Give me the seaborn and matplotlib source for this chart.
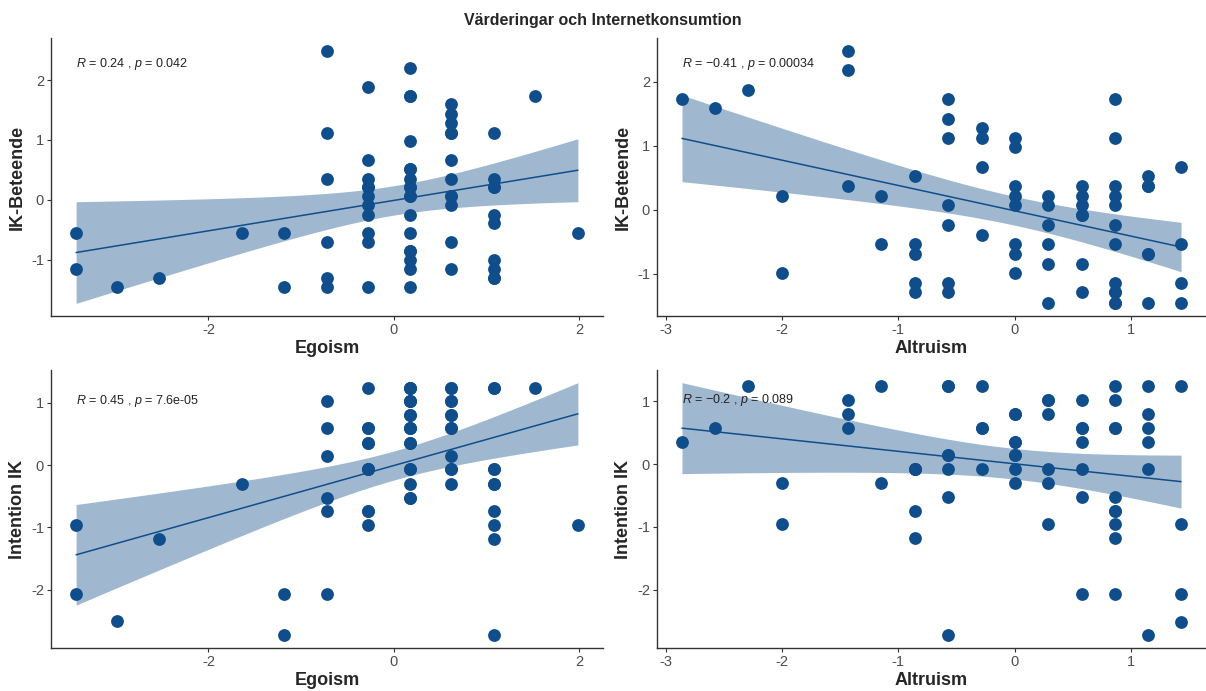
import numpy as np
import pandas as pd
import matplotlib.pyplot as plt
import seaborn as sns

# x positions (columns) of the standardised scores
egoism = [-3.43, -2.99, -2.54, -1.64, -1.18, -0.72, -0.28, 0.18, 0.62, 1.08, 1.53, 1.99]
altruism = [-2.86, -2.58, -2.29, -2.00, -1.43, -1.15, -0.86, -0.57, -0.28, 0.00,
            0.29, 0.58, 0.86, 1.15, 1.43]

# y values in each column (repeated values = respondents hidden behind one dot)
beteende_egoism = [
    [-0.55, -1.15], [-1.46], [-1.31], [-0.55], [-0.55, -1.46],
    [2.49, 1.12, 0.355, -0.70, -1.31, -1.46],
    [1.89, 0.67, 0.355, 0.22, 0.22, 0.06, -0.09, -0.26, -0.55, -0.70, -1.46],
    [2.20, 1.73, 1.73, 0.98, 0.52, 0.52, 0.355, 0.22, 0.22, 0.06, 0.06, -0.26, -0.55,
     -0.86, -0.86, -1.01, -1.15, -1.46],
    [1.60, 1.44, 1.28, 1.12, 1.12, 0.67, 0.355, 0.06, 0.06, -0.09, -0.70, -1.15],
    [1.12, 0.355, 0.22, 0.22, -0.26, -0.39, -1.01, -1.15, -1.31, -1.31],
    [1.73], [-0.55],
]
intention_egoism = [
    [-0.96, -2.06], [-2.50], [-1.18], [-0.30], [-2.06, -2.73],
    [1.02, 0.59, 0.14, -0.52, -0.74, -2.06],
    [1.24, 0.59, 0.59, 0.36, 0.36, -0.07, -0.07, -0.07, -0.74, -0.74, -0.96],
    [1.24, 1.24, 1.24, 1.02, 1.02, 1.02, 0.81, 0.81, 0.59, 0.59, 0.59, 0.36, 0.36,
     -0.07, -0.07, -0.30, -0.52, -0.52],
    [1.24, 1.24, 1.02, 1.02, 0.81, 0.81, 0.59, 0.59, 0.14, -0.07, -0.07, -0.30],
    [1.24, 1.24, -0.07, -0.07, -0.30, -0.30, -0.74, -0.96, -1.18, -2.73],
    [1.24], [-0.96],
]
beteende_altruism = [
    [1.73], [1.59], [1.88], [0.22, -0.99], [2.49, 2.19, 0.38], [0.22, -0.54],
    [0.53, -0.54, -0.69, -1.14, -1.29],
    [1.73, 1.42, 1.13, 0.07, -0.23, -1.14, -1.29],
    [1.28, 1.13, 0.67, -0.39],
    [1.13, 0.98, 0.38, 0.22, 0.07, -0.54, -0.69, -0.99],
    [0.22, 0.07, -0.23, -0.54, -0.84, -1.46],
    [0.38, 0.22, 0.07, -0.08, -0.08, -0.84, -1.29],
    [1.73, 1.13, 0.38, 0.22, 0.07, -0.23, -0.54, -1.14, -1.29, -1.29, -1.46, -1.46],
    [0.53, 0.38, 0.38, -0.69, -0.69, -1.46],
    [0.67, -0.54, -1.14, -1.46],
]
intention_altruism = [
    [0.36], [0.58], [1.24], [-0.30, -0.96], [1.02, 0.80, 0.58], [1.24, -0.30],
    [-0.08, -0.08, -0.08, -0.74, -1.18],
    [1.24, 1.24, 0.14, 0.14, -0.08, -0.52, -2.73],
    [1.24, 0.58, 0.58, -0.08],
    [0.80, 0.80, 0.36, 0.36, 0.14, 0.14, -0.08, -0.30],
    [1.02, 1.02, 0.80, -0.08, -0.30, -0.96],
    [1.02, 0.58, 0.58, 0.36, -0.08, -0.52, -2.07],
    [1.24, 1.02, 0.58, 0.58, -0.52, -0.74, -0.74, -0.96, -1.18, -2.07],
    [1.24, 0.80, 0.58, 0.36, -0.08, -2.73],
    [1.24, -0.96, -2.07, -2.51],
]

cor_labels = [
    r"$R$ = 0.24 , $p$ = 0.042",
    r"$R$ = −0.41 , $p$ = 0.00034",
    r"$R$ = 0.45 , $p$ = 7.6e-05",
    r"$R$ = −0.2 , $p$ = 0.089",
]

DOT = "#104E8B"


def expand(levels, groups):
    xs, ys = [], []
    for x, col in zip(levels, groups):
        xs += [x] * len(col)
        ys += col
    return pd.DataFrame({"x": xs, "y": ys})


def lm_band(df, n=80):
    # ordinary least squares with a 95% confidence band (like geom_smooth(method = "lm"))
    x, y = df["x"].to_numpy(), df["y"].to_numpy()
    b, a = np.polyfit(x, y, 1)
    dof = len(x) - 2
    s = np.sqrt(np.sum((y - (a + b * x)) ** 2) / dof)
    z = 1.959964
    t = z + (z ** 3 + z) / (4 * dof)
    grid = np.linspace(x.min(), x.max(), n)
    se = s * np.sqrt(1 / len(x) + (grid - x.mean()) ** 2 / np.sum((x - x.mean()) ** 2))
    fit = a + b * grid
    return grid, fit, fit - t * se, fit + t * se


sns.set_style("ticks")
plt.rcParams["font.family"] = ["Liberation Sans", "DejaVu Sans"]
plt.rcParams["mathtext.fontset"] = "custom"
plt.rcParams["mathtext.rm"] = "Liberation Sans"
plt.rcParams["mathtext.it"] = "Liberation Sans:italic"
plt.rcParams["axes.unicode_minus"] = False

panels = [
    (expand(egoism, beteende_egoism), "Egoism", "IK-Beteende", [-2, 0, 2], [-1, 0, 1, 2],
     [0.0423, 0.5427, 0.4577, 0.4023]),
    (expand(altruism, beteende_altruism), "Altruism", "IK-Beteende", [-3, -2, -1, 0, 1], [-1, 0, 1, 2],
     [0.5448, 0.5427, 0.4552, 0.4023]),
    (expand(egoism, intention_egoism), "Egoism", "Intention IK", [-2, 0, 2], [-2, -1, 0, 1],
     [0.0423, 0.0622, 0.4577, 0.4023]),
    (expand(altruism, intention_altruism), "Altruism", "Intention IK", [-3, -2, -1, 0, 1], [-2, -1, 0, 1],
     [0.5448, 0.0622, 0.4552, 0.4023]),
]

fig = plt.figure(figsize=(12.06, 6.91), dpi=100)

for (df, xlab, ylab, xt, yt, rect), label in zip(panels, cor_labels):
    ax = fig.add_axes(rect)
    sns.scatterplot(data=df, x="x", y="y", ax=ax, color=DOT, s=85, linewidth=0, zorder=2)
    grid, fit, lo, hi = lm_band(df)
    ax.fill_between(grid, lo, hi, color=DOT, alpha=0.4, linewidth=0, zorder=3)
    sns.lineplot(x=grid, y=fit, ax=ax, color=DOT, lw=1.1, zorder=4)
    ax.set_xticks(xt)
    ax.set_yticks(yt)
    sns.despine(ax=ax)
    for side in ("left", "bottom"):
        ax.spines[side].set_color("#333333")
        ax.spines[side].set_linewidth(1.0)
    ax.tick_params(length=3, width=0.8, color="#333333", labelsize=10.5, labelcolor="#4d4d4d", pad=2)
    ax.set_xlabel(xlab, fontsize=13, fontweight="bold", labelpad=2)
    ax.set_ylabel(ylab, fontsize=13, fontweight="bold", labelpad=4)
    ax.annotate(label, xy=(df["x"].min(), df["y"].max()), xytext=(0, -4),
                textcoords="offset points", ha="left", va="top", fontsize=9, color="#222222")

fig.text(0.5, 1 - 20 / 691, "Värderingar och Internetkonsumtion", ha="center", va="center",
         fontsize=11.5, fontweight="bold")

fig.savefig("out.png", dpi=100)
plt.close(fig)
